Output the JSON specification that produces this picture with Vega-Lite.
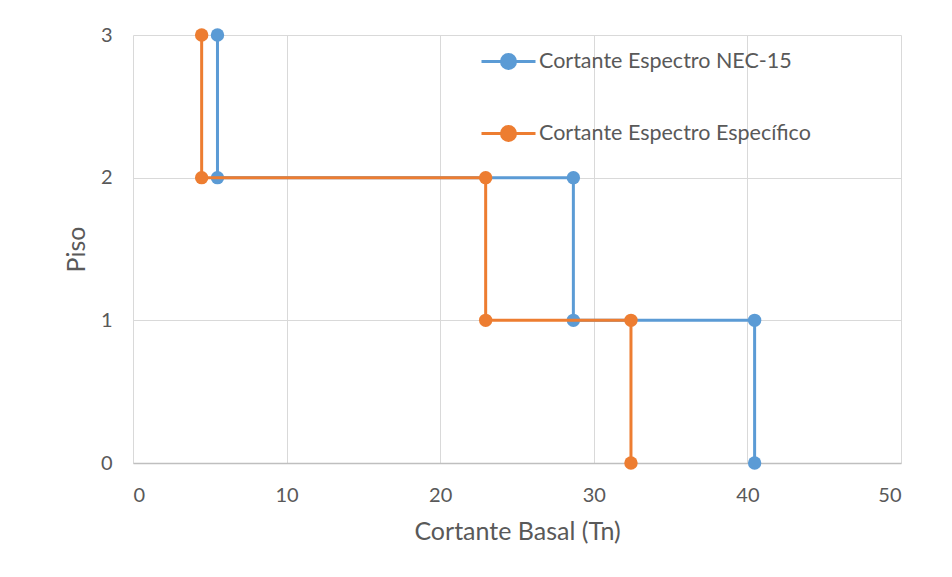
{
  "$schema": "https://vega.github.io/schema/vega-lite/v6.json",
  "autosize": "none",
  "width": 768,
  "height": 428,
  "padding": {"left": 133, "top": 35, "right": 51, "bottom": 114},
  "background": "white",
  "config": {
    "font": "Lato",
    "view": {"stroke": null},
    "axis": {
      "labelColor": "#595959",
      "titleColor": "#595959",
      "labelFont": "Lato",
      "titleFont": "Lato",
      "labelFontSize": 20,
      "titleFontSize": 25,
      "titleFontWeight": "normal",
      "gridColor": "#d9d9d9",
      "gridWidth": 1,
      "ticks": false
    }
  },
  "data": {
    "values": [
      {"serie": "Cortante Espectro NEC-15", "orden": 1, "cortante": 5.5, "piso": 3},
      {"serie": "Cortante Espectro NEC-15", "orden": 2, "cortante": 5.5, "piso": 2},
      {"serie": "Cortante Espectro NEC-15", "orden": 3, "cortante": 28.67, "piso": 2},
      {"serie": "Cortante Espectro NEC-15", "orden": 4, "cortante": 28.67, "piso": 1},
      {"serie": "Cortante Espectro NEC-15", "orden": 5, "cortante": 40.47, "piso": 1},
      {"serie": "Cortante Espectro NEC-15", "orden": 6, "cortante": 40.47, "piso": 0},
      {"serie": "Cortante Espectro Específico", "orden": 1, "cortante": 4.47, "piso": 3},
      {"serie": "Cortante Espectro Específico", "orden": 2, "cortante": 4.47, "piso": 2},
      {"serie": "Cortante Espectro Específico", "orden": 3, "cortante": 22.96, "piso": 2},
      {"serie": "Cortante Espectro Específico", "orden": 4, "cortante": 22.96, "piso": 1},
      {"serie": "Cortante Espectro Específico", "orden": 5, "cortante": 32.42, "piso": 1},
      {"serie": "Cortante Espectro Específico", "orden": 6, "cortante": 32.42, "piso": 0}
    ]
  },
  "encoding": {
    "x": {
      "field": "cortante",
      "type": "quantitative",
      "scale": {"domain": [0, 50], "nice": false, "zero": true},
      "axis": {
        "title": "Cortante Basal (Tn)",
        "values": [0, 10, 20, 30, 40, 50],
        "domain": true,
        "domainColor": "#bfbfbf",
        "domainWidth": 1.5,
        "labelPadding": 22,
        "titlePadding": 14
      }
    },
    "y": {
      "field": "piso",
      "type": "quantitative",
      "scale": {"domain": [0, 3], "nice": false},
      "axis": {
        "title": "Piso",
        "values": [0, 1, 2, 3],
        "domain": false,
        "labelPadding": 21,
        "titlePadding": 11
      }
    },
    "color": {
      "field": "serie",
      "type": "nominal",
      "scale": {
        "domain": ["Cortante Espectro NEC-15", "Cortante Espectro Específico"],
        "range": ["#5B9BD5", "#ED7D31"]
      },
      "legend": {
        "title": null,
        "orient": "none",
        "legendX": 347,
        "legendY": -2,
        "padding": 0,
        "symbolType": "M-1,0L1,0M-0.26,0A0.26,0.26 0 1,0 0.26,0A0.26,0.26 0 1,0 -0.26,0",
        "symbolSize": 2916,
        "symbolStrokeWidth": 3,
        "rowPadding": 30,
        "labelOffset": 2,
        "labelFont": "Lato",
        "labelFontSize": 21.5,
        "labelColor": "#595959",
        "labelLimit": 400,
        "encode": {
          "symbols": {
            "update": {
              "fill": {"scale": "color", "field": "value"},
              "stroke": {"scale": "color", "field": "value"},
              "opacity": {"value": 1}
            }
          }
        }
      }
    },
    "order": {"field": "orden", "type": "quantitative"}
  },
  "layer": [
    {
      "transform": [{"filter": "datum.serie === 'Cortante Espectro NEC-15'"}],
      "mark": {"type": "line", "strokeWidth": 3}
    },
    {
      "transform": [{"filter": "datum.serie === 'Cortante Espectro NEC-15'"}],
      "mark": {"type": "point", "filled": true, "size": 180, "opacity": 1}
    },
    {
      "transform": [{"filter": "datum.serie === 'Cortante Espectro Específico'"}],
      "mark": {"type": "line", "strokeWidth": 3}
    },
    {
      "transform": [{"filter": "datum.serie === 'Cortante Espectro Específico'"}],
      "mark": {"type": "point", "filled": true, "size": 180, "opacity": 1}
    }
  ]
}
